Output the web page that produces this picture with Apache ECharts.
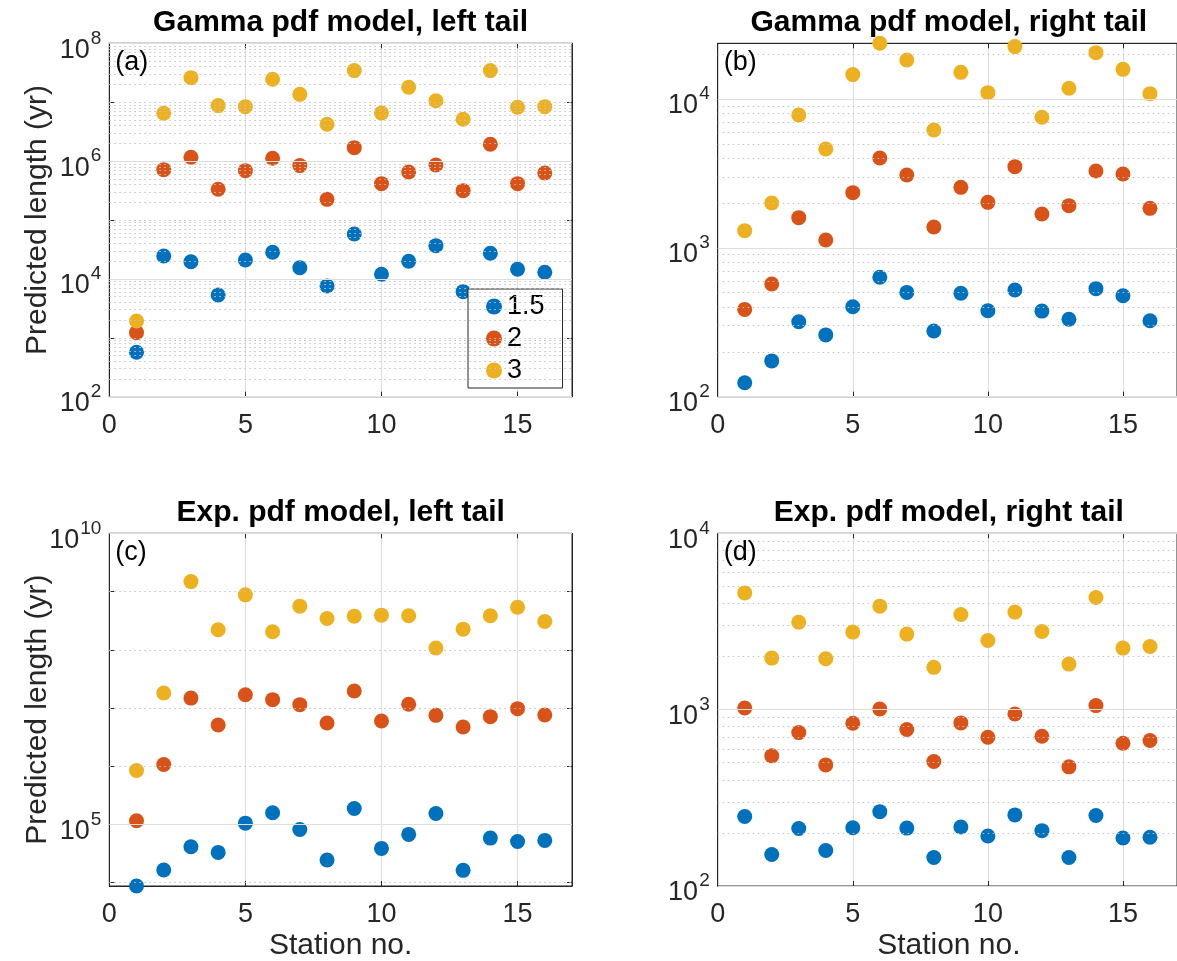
<!DOCTYPE html>
<html><head><meta charset="utf-8">
<script src="https://cdn.jsdelivr.net/npm/echarts@6/dist/echarts.min.js"></script>
<style>html,body{margin:0;padding:0;background:#fff}#c{width:1177px;height:961px}</style>
</head><body><div id="c"></div>
<script>
// ---------------- data ----------------
const stations = [1,2,3,4,5,6,7,8,9,10,11,12,13,14,15,16];
const seriesNames = ['1.5','2','3'];

const gammaLeft15 = [568, 24500, 19600, 5330, 20900, 28300, 15500, 7590, 57900, 11970, 19900, 36700, 6080, 27200, 14550, 12950];
const gammaLeft2  = [1224, 716000, 1160000, 332000, 689000, 1120000, 838000, 224000, 1690000, 414000, 653000, 859000, 315000, 1930000, 414000, 629000];
const gammaLeft3  = [1930, 6490000, 26100000, 8750000, 8410000, 24500000, 13600000, 4220000, 34400000, 6560000, 17900000, 10600000, 5130000, 34400000, 8190000, 8410000];

const gammaRight15 = [124, 174, 319, 260, 402, 634, 502, 276, 495, 378, 521, 376, 331, 532, 477, 324];
const gammaRight2  = [386, 571, 1595, 1129, 2349, 4016, 3085, 1380, 2548, 2021, 3510, 1688, 1920, 3283, 3135, 1842];
const gammaRight3  = [1304, 2000, 7810, 4616, 14580, 23660, 18280, 6190, 15100, 11030, 22490, 7530, 11800, 20470, 15820, 10860];

const expLeft15 = [8770, 16500, 41400, 33100, 105300, 158500, 82100, 24500, 188000, 38800, 67400, 154400, 16300, 58300, 51100, 53200];
const expLeft2  = [115500, 1070000, 14800000, 5110000, 16900000, 13900000, 11400000, 5530000, 19600000, 5980000, 11600000, 7480000, 4720000, 7100000, 9750000, 7590000];
const expLeft3  = [843000, 18100000, 1480000000, 220000000, 877000000, 204000000, 561000000, 344000000, 378000000, 393000000, 383000000, 107000000, 226000000, 383000000, 538000000, 306000000];

const expRight15 = [248, 151, 212, 159, 214, 264, 213, 145, 216, 192, 253, 206, 145, 251, 187, 189];
const expRight2  = [1021, 547, 741, 486, 837, 1009, 771, 508, 841, 697, 945, 706, 474, 1054, 645, 668];
const expRight3  = [4592, 1960, 3133, 1944, 2752, 3863, 2681, 1737, 3466, 2468, 3573, 2775, 1813, 4325, 2234, 2282];

const xTicks = [0, 5, 10, 15];
const yTicksA = [1e2, 1e4, 1e6, 1e8];
const yTicksB = [1e2, 1e3, 1e4];
const yTicksC = [1e5, 1e10];
const yTicksD = [1e2, 1e3, 1e4];

const panelTitles = ['Gamma pdf model, left tail', 'Gamma pdf model, right tail', 'Exp. pdf model, left tail', 'Exp. pdf model, right tail'];
const panelLetters = ['(a)', '(b)', '(c)', '(d)'];
const yLabel = 'Predicted length (yr)';
const xLabel = 'Station no.';

// ---------------- style / layout ----------------
const FONT = "'Liberation Sans', Arial, Helvetica, sans-serif";
const AX = '#262626';
const GRID_MAJOR = '#dedede';
const GRID_MINOR = '#c4c4c4';
const COLORS = ['#0072BD', '#D95319', '#EDB120'];
const TICK_FS = 27, SUP_FS = 19, LABEL_FS = 30, TITLE_FS = 30;

const panels = [
  {rect: {left: 109.3, top: 43.3, width: 462.7, height: 353.4}, data: [gammaLeft15, gammaLeft2, gammaLeft3],
   ymin: 1e2, ymax: 1e8, ticks: yTicksA, minor: 'sub'},
  {rect: {left: 717.7, top: 43.3, width: 462.3, height: 353.4}, data: [gammaRight15, gammaRight2, gammaRight3],
   ymin: 1e2, ymax: Math.max(...gammaRight15, ...gammaRight2, ...gammaRight3), ticks: yTicksB, minor: 'sub'},
  {rect: {left: 109.3, top: 533.3, width: 462.7, height: 352.7}, data: [expLeft15, expLeft2, expLeft3],
   ymin: Math.min(...expLeft15, ...expLeft2, ...expLeft3), ymax: 1e10, ticks: yTicksC, minor: 'decade'},
  {rect: {left: 717.7, top: 533.3, width: 462.3, height: 352.7}, data: [expRight15, expRight2, expRight3],
   ymin: 1e2, ymax: 1e4, ticks: yTicksD, minor: 'sub'}
];

function isTick(v, ticks) { return ticks.some(t => Math.abs(v / t - 1) < 1e-6); }

function gridLineValues(p) {
  const out = [];
  const n0 = Math.floor(Math.log10(p.ymin)), n1 = Math.ceil(Math.log10(p.ymax));
  for (let n = n0; n <= n1; n++) {
    const dec = Math.pow(10, n);
    if (dec >= p.ymin * 0.9999 && dec <= p.ymax * 1.0001) {
      out.push({v: dec, major: isTick(dec, p.ticks)});
    }
    if (p.minor === 'sub') {
      for (let k = 2; k <= 9; k++) {
        const v = k * dec;
        if (v > p.ymin && v < p.ymax) out.push({v: v, major: false});
      }
    }
  }
  return out;
}

const grid = [], xAxis = [], yAxis = [], series = [], graphic = [];

panels.forEach((p, i) => {
  grid.push(Object.assign({show: true, borderColor: AX, borderWidth: 1, backgroundColor: '#fff', containLabel: false}, p.rect));
  const xi = xAxis.length;
  xAxis.push({
    type: 'value', gridIndex: i, min: 0, max: 17, interval: 5, position: 'bottom',
    axisLine: {show: true, onZero: false, lineStyle: {color: AX, width: 1}},
    axisTick: {show: true, inside: true, length: 5, lineStyle: {color: AX}},
    axisLabel: {show: true, margin: 15, fontSize: TICK_FS, fontFamily: FONT, color: AX, showMaxLabel: false,
      formatter: v => (xTicks.indexOf(v) >= 0 ? String(v) : '')},
    splitLine: {show: true, lineStyle: {color: GRID_MAJOR, width: 1}}
  });
  xAxis.push({
    type: 'value', gridIndex: i, min: 0, max: 17, interval: 5, position: 'top',
    axisLine: {show: true, onZero: false, lineStyle: {color: AX, width: 1}},
    axisTick: {show: true, inside: true, length: 5, lineStyle: {color: AX}},
    axisLabel: {show: false}, splitLine: {show: false}
  });
  const yi = yAxis.length;
  const ticks = p.ticks;
  yAxis.push({
    type: 'log', logBase: 10, gridIndex: i, min: p.ymin, max: p.ymax, position: 'left',
    axisLine: {show: true, onZero: false, lineStyle: {color: AX, width: 1}},
    axisTick: {show: true, inside: true, length: 5, lineStyle: {color: AX}},
    axisLabel: {
      show: true, margin: 8, fontSize: TICK_FS, fontFamily: FONT, color: AX,
      formatter: v => {
        if (!isTick(v, ticks)) return '';
        const e = Math.round(Math.log10(v));
        return '{b|10}{s|' + e + '}';
      },
      rich: {
        b: {fontSize: TICK_FS, lineHeight: TICK_FS, fontFamily: FONT, color: AX, padding: [14, 0, 0, 0]},
        s: {fontSize: SUP_FS, lineHeight: SUP_FS, fontFamily: FONT, color: AX, padding: [0, 0, 10, 1]}
      }
    },
    splitLine: {show: false}
  });
  yAxis.push({
    type: 'log', logBase: 10, gridIndex: i, min: p.ymin, max: p.ymax, position: 'right',
    axisLine: {show: true, onZero: false, lineStyle: {color: AX, width: 1}},
    axisTick: {show: true, inside: true, length: 5, lineStyle: {color: AX}},
    axisLabel: {show: false}, splitLine: {show: false}
  });

  // horizontal grid lines (major solid, minor dotted) drawn through the y scale
  const lines = gridLineValues(p).map(g => ({
    yAxis: g.v,
    lineStyle: g.major ? {color: GRID_MAJOR, width: 1, type: 'solid'} : {color: GRID_MINOR, width: 1, type: [1.5, 3.5]}
  }));
  series.push({
    type: 'line', name: 'grid' + i, xAxisIndex: xi, yAxisIndex: yi, data: [], z: 1, silent: true,
    markLine: {silent: true, symbol: ['none', 'none'], label: {show: false}, animation: false,
      emphasis: {disabled: true}, data: lines}
  });

  p.data.forEach((arr, k) => {
    series.push({
      type: 'scatter', name: seriesNames[k], xAxisIndex: xi, yAxisIndex: yi, z: 3,
      symbol: 'circle', symbolSize: 15, clip: false,
      itemStyle: {color: COLORS[k], opacity: 1},
      emphasis: {disabled: true},
      data: stations.map((s, j) => [s, arr[j]])
    });
  });

  const cx = p.rect.left + p.rect.width / 2;
  graphic.push({type: 'text', x: cx, y: p.rect.top - 21, z: 10,
    style: {text: panelTitles[i], fontSize: TITLE_FS, fontWeight: 'bold', fontFamily: FONT, fill: '#000', align: 'center', verticalAlign: 'middle'}});
  graphic.push({type: 'text', x: p.rect.left + 6, y: p.rect.top + 19, z: 10,
    style: {text: panelLetters[i], fontSize: TICK_FS, fontFamily: FONT, fill: '#000', align: 'left', verticalAlign: 'middle'}});
  if (i % 2 === 0) {
    graphic.push({type: 'text', x: 38, y: p.rect.top + p.rect.height / 2, rotation: Math.PI / 2, z: 10,
      style: {text: yLabel, fontSize: LABEL_FS, fontFamily: FONT, fill: AX, align: 'center', verticalAlign: 'middle'}});
  }
  if (i >= 2) {
    graphic.push({type: 'text', x: cx, y: 946, z: 10,
      style: {text: xLabel, fontSize: LABEL_FS, fontFamily: FONT, fill: AX, align: 'center', verticalAlign: 'middle'}});
  }
});

const option = {
  animation: false,
  backgroundColor: '#fff',
  grid: grid, xAxis: xAxis, yAxis: yAxis, series: series, graphic: graphic,
  legend: {
    show: true, orient: 'vertical', left: 468, top: 289,
    data: seriesNames, icon: 'circle', itemWidth: 16, itemHeight: 16, itemGap: 5, itemTextGap: 7,
    padding: [4, 18, 4, 18], backgroundColor: '#fff', borderColor: AX, borderWidth: 1, borderRadius: 0,
    selectedMode: false,
    textStyle: {fontSize: TICK_FS, fontFamily: FONT, color: '#000'}
  }
};

const chart = echarts.init(document.getElementById('c'), null, {renderer: 'canvas', width: 1177, height: 961});
chart.setOption(option);
</script>
</body></html>
